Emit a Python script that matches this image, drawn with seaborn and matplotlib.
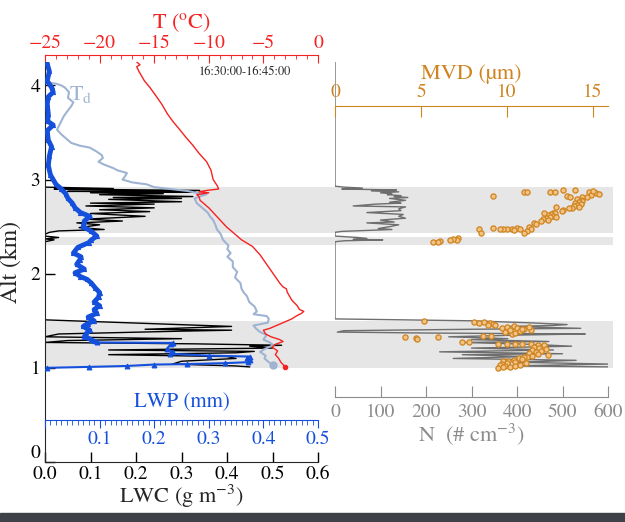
import numpy as np
import pandas as pd
import matplotlib
matplotlib.use("Agg")
import matplotlib.pyplot as plt
import seaborn as sns
from matplotlib.ticker import MultipleLocator
from matplotlib.patches import Rectangle

# ---- data ----
# temperature profile (degC) vs altitude (km)
t_alt = [4.25, 4.22, 4.20, 4.15, 4.05, 3.98, 3.90, 3.80, 3.70, 3.62, 3.55, 3.45, 3.37, 3.28, 3.19,
         3.10, 3.00, 2.93, 2.90, 2.885, 2.87, 2.86, 2.84, 2.82, 2.78, 2.70, 2.60, 2.50, 2.44, 2.36,
         2.29, 2.20, 2.10, 2.00, 1.90, 1.86, 1.84, 1.80, 1.72, 1.66, 1.62, 1.60, 1.58, 1.55, 1.52,
         1.50, 1.46, 1.42, 1.40, 1.36, 1.33, 1.30, 1.28, 1.25, 1.22, 1.18, 1.14, 1.10, 1.06, 1.01]
t_val = [-16.6, -16.3, -16.6, -16.4, -15.9, -15.4, -14.9, -14.3, -13.8, -13.3, -12.8, -12.1, -11.5, -10.9, -10.2,
         -9.8, -9.6, -9.2, -9.1, -10.2, -10.9, -10.0, -11.1, -10.9, -10.8, -10.0, -9.2, -8.4, -7.8, -7.0,
         -6.0, -5.3, -4.7, -4.1, -3.5, -3.2, -2.9, -2.8, -2.4, -1.9, -1.7, -1.3, -1.5, -2.0, -2.4,
         -2.8, -3.6, -4.4, -5.0, -4.8, -4.3, -3.5, -3.2, -3.9, -4.2, -3.7, -3.9, -3.6, -3.4, -3.0]

# dew point (degC)
td_alt = [4.03, 4.02, 4.00, 3.98, 3.93, 3.87, 3.82, 3.78, 3.72, 3.67, 3.60, 3.53, 3.48, 3.42, 3.39,
          3.36, 3.34, 3.30, 3.26, 3.23, 3.19, 3.16, 3.12, 3.10, 3.07, 3.03, 3.00, 2.97, 2.95, 2.92,
          2.90, 2.88, 2.86, 2.845, 2.83, 2.80, 2.75, 2.70, 2.65, 2.61, 2.57, 2.52, 2.47, 2.42, 2.36,
          2.30, 2.26, 2.22, 2.18, 2.13, 2.07, 2.02, 1.96, 1.90, 1.84, 1.80, 1.76, 1.70, 1.65, 1.60,
          1.57, 1.55, 1.52, 1.48, 1.45, 1.42, 1.38, 1.35, 1.30, 1.27, 1.24, 1.20, 1.17, 1.13, 1.10,
          1.06, 1.03]
td_val = [-24.8, -24.0, -23.5, -23.2, -22.8, -22.9, -22.4, -22.6, -23.0, -23.3, -23.6, -23.9, -23.5, -22.9, -22.6,
          -21.8, -20.9, -20.3, -19.8, -19.7, -20.1, -19.6, -18.7, -18.4, -17.5, -17.7, -17.9, -17.0, -15.7, -15.0,
          -13.5, -12.0, -11.1, -10.2, -10.6, -11.3, -11.1, -10.6, -10.1, -9.9, -9.6, -9.4, -9.25, -8.9, -8.7,
          -8.2, -8.3, -8.0, -8.3, -7.8, -7.8, -7.4, -7.6, -7.1, -7.0, -6.8, -6.5, -6.3, -5.8, -5.6,
          -5.9, -4.7, -4.5, -4.6, -5.9, -5.7, -5.3, -4.7, -5.0, -4.4, -4.1, -4.9, -5.3, -4.8, -4.9,
          -4.5, -4.1]

# liquid water path (mm)
lwp_alt = [4.25, 4.15, 4.05, 3.98, 3.93, 3.88, 3.80, 3.70, 3.62, 3.58, 3.52, 3.42, 3.35, 3.25, 3.15,
           3.05, 2.95, 2.90, 2.85, 2.80, 2.75, 2.70, 2.65, 2.61, 2.56, 2.50, 2.45, 2.40, 2.36, 2.33,
           2.28, 2.22, 2.18, 2.15, 2.10, 2.05, 2.01, 1.97, 1.94, 1.90, 1.85, 1.80, 1.75, 1.70, 1.66,
           1.62, 1.58, 1.54, 1.50, 1.47, 1.44, 1.40, 1.36, 1.33, 1.30, 1.28, 1.27,
           1.265, 1.25, 1.20, 1.17, 1.15, 1.13, 1.12, 1.10, 1.08, 1.06, 1.05, 1.04, 1.035, 1.02, 1.01, 1.00]
lwp_val = [0.003, 0.008, 0.004, 0.012, 0.015, 0.006, 0.004, 0.006, 0.005, 0.015, 0.004, 0.006, 0.012, 0.008, 0.006,
           0.010, 0.020, 0.030, 0.038, 0.042, 0.050, 0.055, 0.065, 0.082, 0.072, 0.070, 0.085, 0.095, 0.085, 0.080,
           0.060, 0.052, 0.066, 0.064, 0.058, 0.072, 0.055, 0.065, 0.077, 0.085, 0.092, 0.100, 0.098, 0.090, 0.100,
           0.090, 0.095, 0.079, 0.090, 0.078, 0.070, 0.082, 0.075, 0.072, 0.085, 0.090, 0.095,
           0.235, 0.230, 0.223, 0.235, 0.229, 0.300, 0.375, 0.370, 0.375, 0.372, 0.330, 0.260, 0.200, 0.150, 0.080, 0.003]
lwp_split = 57  # index where the thick upper part ends

# liquid water content (g m-3)
lwc_alt = [4.25, 2.93, 2.92, 2.905, 2.90, 2.885, 2.875, 2.87, 2.86, 2.85, 2.84, 2.82, 2.81, 2.80, 2.79,
           2.765, 2.75, 2.74, 2.72, 2.70, 2.68, 2.66, 2.64, 2.61, 2.58, 2.56, 2.54, 2.52, 2.49, 2.47,
           2.455, 2.44, 2.42, 2.40, 2.385, 2.37, 2.36, 2.34, 1.52,
           1.51, 1.44, 1.41, 1.40, 1.39, 1.36, 1.33, 1.31, 1.29, 1.27, 1.255, 1.24, 1.23, 1.21, 1.19,
           1.175, 1.16, 1.14, 1.12, 1.10, 1.07, 1.04, 1.02, 1.01]
lwc_val = [0.0, 0.0, 0.0, 0.15, 0.02, 0.34, 0.05, 0.33, 0.10, 0.26, 0.12, 0.325, 0.15, 0.30, 0.14,
           0.30, 0.10, 0.24, 0.09, 0.24, 0.12, 0.23, 0.10, 0.22, 0.09, 0.17, 0.07, 0.12, 0.075, 0.13,
           0.03, 0.01, 0.0, 0.0, 0.03, 0.0, 0.02, 0.0, 0.0,
           0.0, 0.41, 0.22, 0.41, 0.30, 0.03, 0.0, 0.30, 0.05, 0.0, 0.33, 0.52, 0.45, 0.50, 0.14,
           0.46, 0.42, 0.14, 0.40, 0.42, 0.30, 0.28, 0.42, 0.45]

# droplet number concentration (# cm-3)
n_alt = [4.25, 2.95, 2.93, 2.92, 2.91, 2.90, 2.89, 2.88, 2.87, 2.86, 2.85, 2.84, 2.83, 2.82, 2.81,
         2.80, 2.78, 2.76, 2.75, 2.74, 2.72, 2.71, 2.69, 2.67, 2.65, 2.63, 2.61, 2.59, 2.57, 2.55,
         2.54, 2.52, 2.50, 2.48, 2.47, 2.46, 2.45, 2.44, 2.40, 2.385, 2.375, 2.365, 2.36, 2.35, 2.34,
         1.52, 1.50, 1.48, 1.46, 1.45, 1.44, 1.42, 1.41, 1.395, 1.38, 1.37, 1.36, 1.35, 1.33, 1.31,
         1.30, 1.28, 1.27, 1.25, 1.23, 1.21, 1.19, 1.17, 1.15, 1.14, 1.12, 1.10, 1.08, 1.06, 1.04,
         1.02, 1.01]
n_val = [0, 0, 0, 20, 60, 15, 135, 80, 140, 100, 125, 115, 145, 130, 160,
         120, 155, 120, 145, 90, 40, 155, 140, 145, 70, 150, 140, 155, 100, 130,
         70, 140, 120, 95, 125, 70, 15, 0, 0, 50, 70, 40, 105, 20, 0,
         0, 300, 420, 510, 480, 380, 540, 300, 20, 5, 200, 550, 420, 250, 380,
         300, 470, 280, 430, 520, 300, 480, 230, 500, 280, 420, 260, 530, 400, 600,
         380, 610]

# median volume diameter (um)
mvd_alt = [2.83, 2.87, 2.87, 2.87, 2.87, 2.89, 2.89, 2.83, 2.81, 2.87, 2.86, 2.84, 2.82, 2.81, 2.88,
           2.85, 2.79, 2.78, 2.77, 2.76, 2.75, 2.74, 2.73, 2.72, 2.71, 2.70, 2.70, 2.68, 2.67, 2.71,
           2.65, 2.64, 2.63, 2.62, 2.61, 2.60, 2.59, 2.58, 2.57, 2.56, 2.60, 2.65, 2.54, 2.53, 2.50,
           2.47, 2.45, 2.43, 2.49, 2.48, 2.48, 2.47, 2.48, 2.49, 2.48, 2.43, 2.47, 2.46,
           2.38, 2.36, 2.37, 2.36, 2.35, 2.34, 2.34,
           1.50, 1.49, 1.48, 1.49, 1.48, 1.47, 1.45, 1.45, 1.33, 1.32, 1.31, 1.33, 1.34, 1.34, 1.42,
           1.43, 1.44, 1.42, 1.41, 1.40, 1.43, 1.39, 1.36, 1.38, 1.37, 1.40, 1.41, 1.27, 1.27, 1.25,
           1.25, 1.25, 1.25, 1.25, 1.24, 1.24, 1.22, 1.21, 1.20, 1.19, 1.18, 1.17, 1.16, 1.15, 1.14,
           1.13, 1.12, 1.11, 1.10, 1.09, 1.08, 1.07, 1.07, 1.06, 1.05, 1.04, 1.03, 1.02, 1.01, 1.00,
           1.03, 1.05, 1.02, 1.01]
mvd_val = [9.2, 11.0, 11.2, 12.5, 12.8, 13.3, 14.0, 13.5, 13.7, 14.8, 15.2, 14.9, 14.7, 14.4, 15.0,
           15.4, 14.1, 14.3, 14.4, 14.2, 14.0, 14.3, 14.1, 13.9, 14.2, 13.8, 13.6, 13.3, 13.2, 12.9,
           12.7, 12.8, 12.6, 12.4, 12.7, 12.5, 12.3, 12.1, 12.4, 12.0, 12.9, 12.2, 11.6, 11.7, 11.3,
           11.4, 11.2, 11.0, 10.6, 10.3, 10.0, 9.8, 9.6, 9.2, 8.4, 8.5, 10.8, 10.4,
           7.15, 7.1, 6.9, 6.7, 6.1, 6.0, 5.7,
           5.2, 8.1, 8.4, 8.7, 9.0, 9.2, 9.3, 8.9, 4.1, 4.7, 4.8, 6.0, 8.6, 9.1, 9.7,
           10.0, 10.4, 10.6, 11.0, 11.4, 11.3, 10.8, 10.3, 9.9, 10.5, 10.2, 10.9, 7.4, 7.8, 9.5,
           10.0, 10.5, 10.9, 11.4, 11.8, 12.2, 11.6, 11.9, 12.3, 11.5, 12.0, 11.7, 11.3, 11.8, 12.4,
           11.5, 11.2, 11.0, 10.7, 10.9, 10.4, 10.1, 9.8, 10.5, 10.0, 9.7, 9.6, 9.9, 10.2, 9.5,
           10.8, 11.1, 10.5, 9.8]

# cloud layers (km)
cloud_lo = [1.00, 2.31, 2.43]
cloud_hi = [1.50, 2.39, 2.92]

red = "#f52222"
blue = "#1450dc"
td_col = "#9fb4d2"
gray = "#8c8c8c"
orange = "#cf8420"

sns.set_style("ticks")
plt.rcParams["font.family"] = ["STIXGeneral", "DejaVu Serif"]
plt.rcParams["mathtext.fontset"] = "stix"

fig = plt.figure(figsize=(6.25, 5.22), dpi=100)
ax = fig.add_axes([0.072, 0.115, 0.4368, 0.7663])
axr = fig.add_axes([0.536, 0.115, 0.4368, 0.7663], sharey=ax)
axr.set_facecolor("none")

for lo, hi in zip(cloud_lo, cloud_hi):
    ax.axhspan(lo, hi, xmin=0, xmax=2.08, color="#e6e6e6", lw=0, zorder=0, clip_on=False)

# LWC (bottom axis)
sns.lineplot(x=lwc_val, y=lwc_alt, ax=ax, sort=False, estimator=None, color="black", lw=1.0)
ax.set_xlim(0, 0.6)
ax.set_ylim(0, 4.25)
ax.set_xticks(np.arange(0, 0.61, 0.1))
ax.set_xticklabels(["%.1f" % v for v in np.arange(0, 0.61, 0.1)])
ax.set_yticks([0, 1, 2, 3, 4])
ax.tick_params(direction="in", length=7, width=1, labelsize=14, colors="black", top=False, right=False)
ax.tick_params(axis="x", pad=3)
ax.get_yticklabels()[0].set_va("bottom")
for s in ["top", "right"]:
    ax.spines[s].set_visible(False)
ax.set_xlabel("LWC (g m$^{-3}$)", fontsize=16, labelpad=0)
ax.set_ylabel("Alt (km)", fontsize=17, labelpad=6)

# temperature (top axis)
ax_t = ax.twiny()
sns.lineplot(x=td_val, y=td_alt, ax=ax_t, sort=False, estimator=None, color=td_col, lw=1.5)
sns.lineplot(x=t_val, y=t_alt, ax=ax_t, sort=False, estimator=None, color=red, lw=1.0)
ax_t.plot(t_val[-1], t_alt[-1], "o", color=red, ms=3)
ax_t.plot(td_val[-1], td_alt[-1], "o", color=td_col, ms=5)
ax_t.set_xlim(-25, 0)
ax_t.xaxis.set_major_locator(MultipleLocator(5))
ax_t.xaxis.set_minor_locator(MultipleLocator(1))
ax_t.tick_params(axis="x", which="major", direction="in", length=6, colors=red, labelsize=14,
                 top=True, bottom=False, labeltop=True, labelbottom=False, pad=2)
ax_t.tick_params(axis="x", which="minor", direction="in", length=3, color=red, top=True, bottom=False)
ax_t.spines["top"].set_position(("outward", 5))
ax_t.spines["top"].set_color(red)
for s in ["left", "right", "bottom"]:
    ax_t.spines[s].set_visible(False)
ax_t.set_xlabel("T ($^{\\rm o}$C)", color=red, fontsize=16, labelpad=5)
ax_t.text(-6.7, 4.14, "16:30:00-16:45:00", fontsize=9, ha="center", va="center")
ax_t.text(-22.8, 3.9, "T$_{\\rm d}$", color=td_col, fontsize=16, ha="left", va="center")

# LWP (axis inside the panel)
ax_p = ax.twiny()
sns.lineplot(x=lwp_val[:lwp_split], y=lwp_alt[:lwp_split], ax=ax_p, sort=False, estimator=None,
             color=blue, lw=3.5, marker="^", ms=3, mec=blue)
sns.lineplot(x=lwp_val[lwp_split - 1:], y=lwp_alt[lwp_split - 1:], ax=ax_p, sort=False, estimator=None,
             color=blue, lw=1.5, marker="^", ms=3.5, mec=blue)
ax_p.set_xlim(0, 0.5)
ax_p.xaxis.tick_bottom()
ax_p.spines["bottom"].set_position(("data", 0.45))
ax_p.spines["bottom"].set_color(blue)
for s in ["left", "right", "top"]:
    ax_p.spines[s].set_visible(False)
ax_p.set_xticks(np.arange(0, 0.51, 0.1))
ax_p.set_xticklabels([""] + ["%.1f" % v for v in np.arange(0.1, 0.51, 0.1)])
ax_p.xaxis.set_minor_locator(MultipleLocator(0.01))
ax_p.tick_params(axis="x", which="major", direction="out", length=6, colors=blue, labelsize=14, pad=2)
ax_p.tick_params(axis="x", which="minor", direction="out", length=3.5, color=blue)
ax_p.text(0.25, 0.63, "LWP (mm)", color=blue, fontsize=15, ha="center", va="center")

# N (right panel)
sns.lineplot(x=n_val, y=n_alt, ax=axr, sort=False, estimator=None, color="#6e6e6e", lw=1.0)
axr.set_xlim(0, 600)
axr.set_xticks(np.arange(0, 601, 100))
axr.spines["bottom"].set_position(("data", 0.69))
axr.spines["bottom"].set_color(gray)
for s in ["left", "right", "top"]:
    axr.spines[s].set_visible(False)
axr.tick_params(axis="x", direction="in", length=8, colors=gray, labelsize=14, pad=5)
axr.tick_params(axis="y", left=False, labelleft=False)
axr.set_xlabel("N  (# cm$^{-3}$)", color=gray, fontsize=16, labelpad=0)

# MVD (top axis of right panel)
ax_m = axr.twiny()
sns.scatterplot(x=mvd_val, y=mvd_alt, ax=ax_m, marker="o", s=14, color="#f2c385",
                edgecolor=orange, linewidth=0.9, zorder=3)
ax_m.set_xlim(0, 15.9)
ax_m.set_xticks([0, 5, 10, 15])
ax_m.spines["top"].set_position(("data", 3.78))
ax_m.spines["top"].set_color(orange)
for s in ["left", "right", "bottom"]:
    ax_m.spines[s].set_visible(False)
ax_m.tick_params(axis="x", direction="in", length=8, colors=orange, labelsize=14)
ax_m.set_xlabel("MVD (\u00b5m)", color=orange, fontsize=16)

fig.patches.append(Rectangle((0, 0), 1, 9 / 522, transform=fig.transFigure, color="#3e4248", zorder=0))

fig.savefig("out.png", dpi=100)
